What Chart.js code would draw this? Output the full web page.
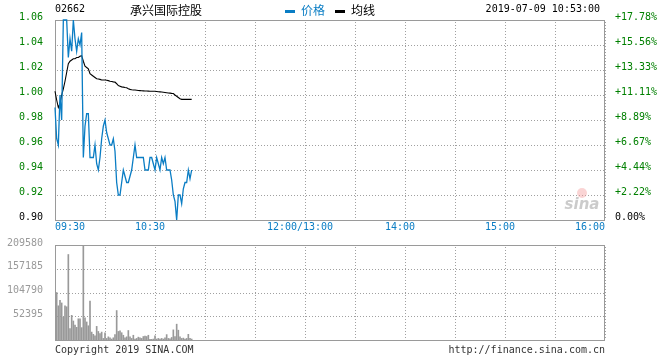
<!DOCTYPE html>
<html>
<head>
<meta charset="utf-8">
<script src="https://cdn.jsdelivr.net/npm/chart.js@4.4.1/dist/chart.umd.min.js"></script>
<style>
  html, body { margin: 0; padding: 0; background: #fff; }
  #wrap { position: relative; width: 660px; height: 360px; }
  #priceChart { position: absolute; left: 0; top: 0; }
  #volChart { position: absolute; left: 0; top: 235px; }
</style>
</head>
<body>
<div id="wrap">
  <canvas id="priceChart" width="660" height="235"></canvas>
  <canvas id="volChart" width="660" height="125"></canvas>
</div>
<script>
// 02662 intraday, 2019-07-09 (one value per trading minute from 09:30)
const stockCode = '02662';
const stockName = '承兴国际控股';
const stampText = '2019-07-09 10:53:00';
const legendNames = ['价格', '均线'];
const prevClose = 0.90;

const priceVals = [
  0.99, 0.965, 0.96, 1.00, 0.98, 1.06, 1.06, 1.06, 1.03, 1.045,
  1.035, 1.06, 1.045, 1.035, 1.045, 1.04, 1.05, 0.95, 0.975, 0.985,
  0.985, 0.95, 0.95, 0.95, 0.96, 0.945, 0.94, 0.95, 0.965, 0.975,
  0.98, 0.97, 0.965, 0.96, 0.96, 0.965, 0.955, 0.93, 0.92, 0.92,
  0.93, 0.94, 0.935, 0.93, 0.93, 0.935, 0.94, 0.95, 0.96, 0.95,
  0.95, 0.95, 0.95, 0.95, 0.94, 0.94, 0.94, 0.95, 0.95, 0.945,
  0.94, 0.95, 0.945, 0.94, 0.95, 0.945, 0.95, 0.94, 0.94, 0.94,
  0.932, 0.92, 0.915, 0.90, 0.92, 0.92, 0.913, 0.925, 0.93, 0.93,
  0.94, 0.933, 0.94
];
const avgVals = [
  1.003, 0.996, 0.99, 0.993, 1.0, 1.005, 1.011, 1.018, 1.025, 1.027,
  1.028, 1.029, 1.029, 1.030, 1.030, 1.031, 1.0315, 1.027, 1.023, 1.022,
  1.021, 1.017, 1.016, 1.015, 1.014, 1.013, 1.0128, 1.0125, 1.012, 1.012,
  1.012, 1.0118, 1.0115, 1.011, 1.0108, 1.0105, 1.0103, 1.009, 1.0075, 1.007,
  1.0065, 1.0063, 1.006, 1.0058, 1.005, 1.0045, 1.0042, 1.004, 1.004, 1.0038,
  1.0036, 1.0035, 1.0034, 1.0033, 1.0032, 1.0032, 1.0031, 1.003, 1.003, 1.003,
  1.003, 1.0028, 1.0026, 1.0025, 1.0024, 1.0022, 1.002, 1.0018, 1.0016, 1.0015,
  1.0013, 1.0012, 1.0, 0.999, 0.998, 0.997, 0.9965, 0.9965, 0.9965, 0.9965,
  0.9965, 0.9965, 0.9965
];
// volume bars start one minute after the open
const volumeVals = [
  104790, 75450, 87330, 81740, 50300, 75450, 73350, 188600, 25150, 54490,
  41920, 32830, 27940, 46800, 46800, 27250, 209580, 48900, 39820, 31440,
  85930, 17470, 12570, 9080, 30040, 18860, 13970, 17470, 3490, 16070,
  3490, 6990, 4890, 2100, 4890, 11880, 64970, 18860, 20260, 16070,
  10480, 4890, 6990, 20960, 6990, 3490, 10480, 2100, 3490, 6290,
  4890, 3490, 7680, 8380, 7680, 10480, 1400, 1400, 2100, 9080,
  2100, 3490, 2100, 3490, 2100, 4890, 11880, 3490, 2790, 5590,
  22360, 7680, 34930, 21660, 6990, 3490, 4190, 2100, 3490, 12570,
  3490, 2100
];

const timeLabels = ['09:30', '10:30', '12:00/13:00', '14:00', '15:00', '16:00'];
const timeLabelMinutes = [0, 60, 150, 210, 270, 330];
const priceTicks = { min: 0.90, max: 1.06, step: 0.02 };
const volTicks = { min: 0, max: 209580, step: 52395 };

const MONO = '10px "DejaVu Sans Mono", monospace';
const CJK = '12px "Noto Sans CJK SC", sans-serif';
const BLUE = '#0a7dc4';
const GREEN = '#008000';
const GRAY = '#9a9a9a';
const DOT = '#a0a0a0';

const pricePts = priceVals.map((v, i) => ({ x: i, y: v }));
const avgPts = avgVals.map((v, i) => ({ x: i, y: v }));
const volPts = volumeVals.map((v, i) => ({ x: i + 1, y: v }));

function fixWidth(w) { return function(scale){ scale.width = w; }; }
function fixHeight(h) { return function(scale){ scale.height = h; }; }

const xScale = (bottomH) => ({
  type: 'linear', min: 0, max: 330, offset: false,
  afterFit: fixHeight(bottomH),
  ticks: { display: false, stepSize: 30 },
  grid: { display: false, offset: false },
  border: { display: false }
});

// dotted grid from the scales' own ticks, then the solid frame
function drawFrame(chart, yId) {
  const { ctx, chartArea: a } = chart;
  const xs = chart.scales.x, ys = chart.scales[yId];
  ctx.save();
  ctx.fillStyle = DOT;
  xs.ticks.forEach((t) => {
    const px = Math.round(xs.getPixelForValue(t.value));
    for (let y = a.top + 2; y < a.bottom; y += 3) ctx.fillRect(px, y, 1, 1);
  });
  ys.ticks.forEach((t) => {
    const py = Math.round(ys.getPixelForValue(t.value));
    for (let x = a.left + 2; x < a.right; x += 3) ctx.fillRect(x, py, 1, 1);
  });
  ctx.strokeStyle = GRAY;
  ctx.lineWidth = 1;
  ctx.strokeRect(Math.round(a.left) + 0.5, Math.round(a.top) + 0.5,
    Math.round(a.right - a.left) - 1, Math.round(a.bottom - a.top));
  ctx.restore();
}

// header + time labels for the price panel
const pricePanel = {
  id: 'pricePanel',
  beforeDatasetsDraw(chart) {
    const { ctx } = chart;
    drawFrame(chart, 'y');
    // sina watermark
    ctx.save();
    ctx.globalAlpha = 0.45;
    ctx.fillStyle = '#f3a0a0';
    ctx.beginPath(); ctx.arc(582, 193, 5, 0, Math.PI * 2); ctx.fill();
    ctx.fillStyle = '#8c8c8c';
    ctx.font = 'italic bold 15px "DejaVu Sans", sans-serif';
    ctx.textAlign = 'center'; ctx.textBaseline = 'middle';
    ctx.fillText('sina', 582, 205);
    ctx.restore();
  },
  afterDraw(chart) {
    const { ctx, chartArea: a } = chart;
    const x = chart.scales.x;
    ctx.save();
    ctx.textBaseline = 'middle';
    ctx.font = MONO; ctx.fillStyle = '#000'; ctx.textAlign = 'left';
    ctx.fillText(stockCode, a.left, 9);
    ctx.font = CJK; ctx.textAlign = 'center';
    ctx.fillText(stockName, 166, 10);
    // legend
    ctx.fillStyle = BLUE; ctx.fillRect(285, 10, 10, 3);
    ctx.textAlign = 'left'; ctx.fillText(legendNames[0], 301, 10);
    ctx.fillStyle = '#000'; ctx.fillRect(335, 10, 10, 3);
    ctx.fillText(legendNames[1], 351, 10);
    ctx.font = MONO; ctx.textAlign = 'right';
    ctx.fillText(stampText, 600, 9);
    // time axis labels
    ctx.fillStyle = BLUE;
    timeLabels.forEach((t, i) => {
      const px = x.getPixelForValue(timeLabelMinutes[i]);
      if (i === 0) { ctx.textAlign = 'left'; ctx.fillText(t, px, 227); }
      else if (i === timeLabels.length - 1) { ctx.textAlign = 'right'; ctx.fillText(t, px, 227); }
      else { ctx.textAlign = 'center'; ctx.fillText(t, px - 5, 227); }
    });
    ctx.restore();
  }
};

const volPanel = {
  id: 'volPanel',
  beforeDatasetsDraw(chart) { drawFrame(chart, 'y'); },
  afterDraw(chart) {
    const { ctx, chartArea: a } = chart;
    ctx.save();
    ctx.font = MONO; ctx.textBaseline = 'middle';
    ctx.fillStyle = '#333';
    ctx.textAlign = 'left';
    ctx.fillText('Copyright 2019 SINA.COM', a.left, 115);
    ctx.textAlign = 'right';
    ctx.fillText('http://finance.sina.com.cn', a.right, 115);
    ctx.restore();
  }
};

const pctLabel = (v) => {
  const p = (v / prevClose - 1) * 100;
  if (Math.abs(p) < 0.005) return '0.00%';
  return (p > 0 ? '+' : '') + p.toFixed(2) + '%';
};
const upColor = (c) => (c.tick && c.tick.value <= prevClose + 1e-9 ? '#000' : GREEN);
const tickFont = { family: '"DejaVu Sans Mono", monospace', size: 10 };

new Chart(document.getElementById('priceChart'), {
  type: 'line',
  data: {
    datasets: [
      { label: legendNames[0], data: pricePts, yAxisID: 'y', borderColor: BLUE, borderWidth: 1.3,
        pointRadius: 0, tension: 0, fill: false, clip: 3 },
      { label: legendNames[1], data: avgPts, yAxisID: 'y', borderColor: '#000', borderWidth: 1.1,
        pointRadius: 0, tension: 0, fill: false, clip: 3 }
    ]
  },
  options: {
    responsive: false,
    animation: false,
    events: [],
    layout: { padding: { top: 20, left: 0, right: 0, bottom: 0 } },
    plugins: { legend: { display: false }, tooltip: { enabled: false } },
    scales: {
      x: xScale(15),
      y: {
        position: 'left', min: priceTicks.min, max: priceTicks.max,
        afterFit: fixWidth(55),
        ticks: { stepSize: priceTicks.step, padding: 4, labelOffset: -3, font: tickFont,
          color: upColor, callback: (v) => v.toFixed(2) },
        grid: { display: false },
        border: { display: false }
      },
      yPct: {
        position: 'right', min: priceTicks.min, max: priceTicks.max,
        afterFit: fixWidth(55),
        ticks: { stepSize: priceTicks.step, padding: 2, labelOffset: -3, font: tickFont,
          color: upColor, callback: pctLabel },
        grid: { display: false },
        border: { display: false }
      }
    }
  },
  plugins: [pricePanel]
});

new Chart(document.getElementById('volChart'), {
  type: 'bar',
  data: {
    datasets: [
      { label: 'vol', data: volPts, backgroundColor: '#999999', barThickness: 1, borderWidth: 0 }
    ]
  },
  options: {
    responsive: false,
    animation: false,
    events: [],
    layout: { padding: { top: 5, left: 0, right: 0, bottom: 0 } },
    plugins: { legend: { display: false }, tooltip: { enabled: false } },
    scales: {
      x: xScale(20),
      y: {
        position: 'left', min: volTicks.min, max: volTicks.max,
        afterFit: fixWidth(55),
        ticks: { stepSize: volTicks.step, padding: 4, labelOffset: -2, font: tickFont,
          color: GRAY, callback: (v) => (v === 0 ? '' : String(v)) },
        grid: { display: false },
        border: { display: false }
      },
      yR: {
        position: 'right', min: volTicks.min, max: volTicks.max,
        afterFit: fixWidth(55),
        ticks: { display: false },
        grid: { display: false },
        border: { display: false }
      }
    }
  },
  plugins: [volPanel]
});
</script>
</body>
</html>
